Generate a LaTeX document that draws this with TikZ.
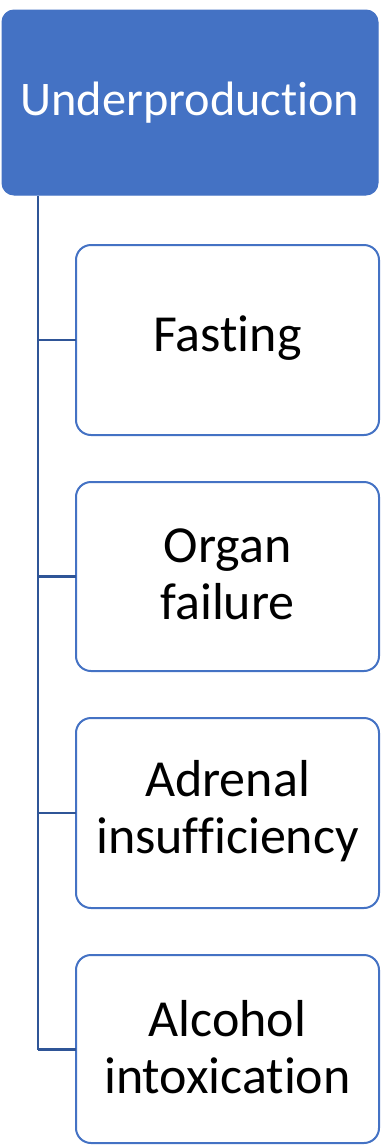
\documentclass[tikz,border=0pt]{standalone}
\usepackage{fontspec}
\setmainfont[Ligatures={NoCommon}]{Carlito}
\definecolor{accent}{HTML}{4472C4}
\definecolor{linkblue}{HTML}{2F5597}
\begin{document}
\begin{tikzpicture}[x=1pt,y=-1pt,
  rootbox/.style={draw=accent, fill=accent, rounded corners=12pt, line width=1pt},
  childbox/.style={draw=accent, fill=white, rounded corners=15pt, line width=2pt},
  roottext/.style={text=white, font=\fontsize{48.3}{56}\selectfont},
  childtext/.style={text=black, align=center, font=\fontsize{52}{57}\selectfont},
  link/.style={draw=linkblue, line width=2.6pt}]
\useasboundingbox (0,0) rectangle (384,1146);
% root box and its label
\path[rootbox] (2,10) rectangle (378,195);
\node[roottext] (root) at (190,102.5) {Underproduction};
% child boxes
\path[childbox] (76,245) rectangle (379,435);
\path[childbox] (76,482) rectangle (379,671);
\path[childbox] (76,718) rectangle (379,908);
\path[childbox] (76,955) rectangle (379,1143);
\node[childtext] (c1) at (227.5,338) {Fasting};
\node[childtext] (c2) at (227.5,574) {Organ\\failure};
\node[childtext] (c3) at (227.5,811) {Adrenal\\insufficiency};
\node[childtext] (c4) at (227.5,1047) {Alcohol\\intoxication};
% tree connectors
\coordinate (top) at (38,196);
\coordinate (b1) at (38,340);
\coordinate (b2) at (38,576.5);
\coordinate (b3) at (38,813);
\coordinate (b4) at (38,1049.5);
\coordinate (e1) at (76,340);
\coordinate (e2) at (76,576.5);
\coordinate (e3) at (76,813);
\coordinate (e4) at (76,1049.5);
\draw[link] (top) -- (b4);
\draw[link] (b1) -- (e1);
\draw[link] (b2) -- (e2);
\draw[link] (b3) -- (e3);
\draw[link] (b4) -- (e4);
\end{tikzpicture}
\end{document}
